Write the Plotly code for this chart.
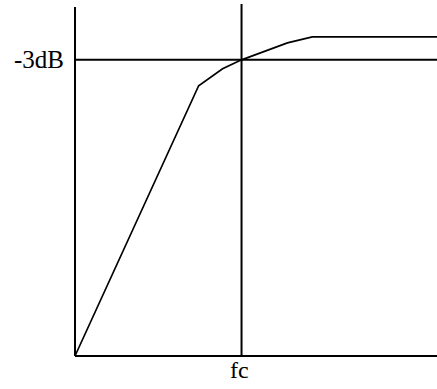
import plotly.graph_objects as go

# Schematic response curve (arbitrary units: frequency vs. gain)
freq = [0, 124, 148, 167, 213, 238, 363]
gain = [0, 271, 288, 297, 314, 320, 320]

fc_value = 167        # cutoff frequency position
db3_value = 297       # -3dB level
x_max = 363
y_top = 350           # top of the gain axis line
fc_top = 353          # top of the fc marker line

fc_label = "fc"
db3_label = "-3dB"

fig = go.Figure()

line_style = dict(color="black", width=2)

# Gain axis (vertical) and frequency axis (horizontal)
fig.add_trace(go.Scatter(x=[0, 0], y=[0, y_top], mode="lines", line=line_style, hoverinfo="skip"))
fig.add_trace(go.Scatter(x=[0, x_max], y=[0, 0], mode="lines", line=line_style, hoverinfo="skip"))
# -3dB horizontal reference
fig.add_trace(go.Scatter(x=[0, x_max], y=[db3_value, db3_value], mode="lines", line=line_style, hoverinfo="skip"))
# fc vertical reference
fig.add_trace(go.Scatter(x=[fc_value, fc_value], y=[0, fc_top], mode="lines", line=line_style, hoverinfo="skip"))
# Response curve
fig.add_trace(go.Scatter(x=freq, y=gain, mode="lines", line=dict(color="black", width=1.7), hoverinfo="skip"))

fig.add_annotation(x=0, y=db3_value, xref="x", yref="y", text=db3_label, showarrow=False,
                   xanchor="right", yanchor="middle", xshift=-9,
                   font=dict(family="Liberation Serif", size=25, color="black"))
fig.add_annotation(x=fc_value, y=0, xref="x", yref="y", text=fc_label, showarrow=False,
                   xanchor="center", yanchor="top", yshift=1, xshift=-2,
                   font=dict(family="Liberation Serif", size=24, color="black"))

fig.update_layout(
    width=437, height=389,
    margin=dict(l=74, r=0, t=0, b=32),
    paper_bgcolor="white", plot_bgcolor="white",
    showlegend=False,
    xaxis=dict(range=[-1, x_max], visible=False, fixedrange=True),
    yaxis=dict(range=[-1, 357], visible=False, fixedrange=True),
)

fig.write_html(
    "out.html",
    config={"displayModeBar": False},
    post_script="document.body.style.margin='0';document.body.style.overflow='hidden';",
)
